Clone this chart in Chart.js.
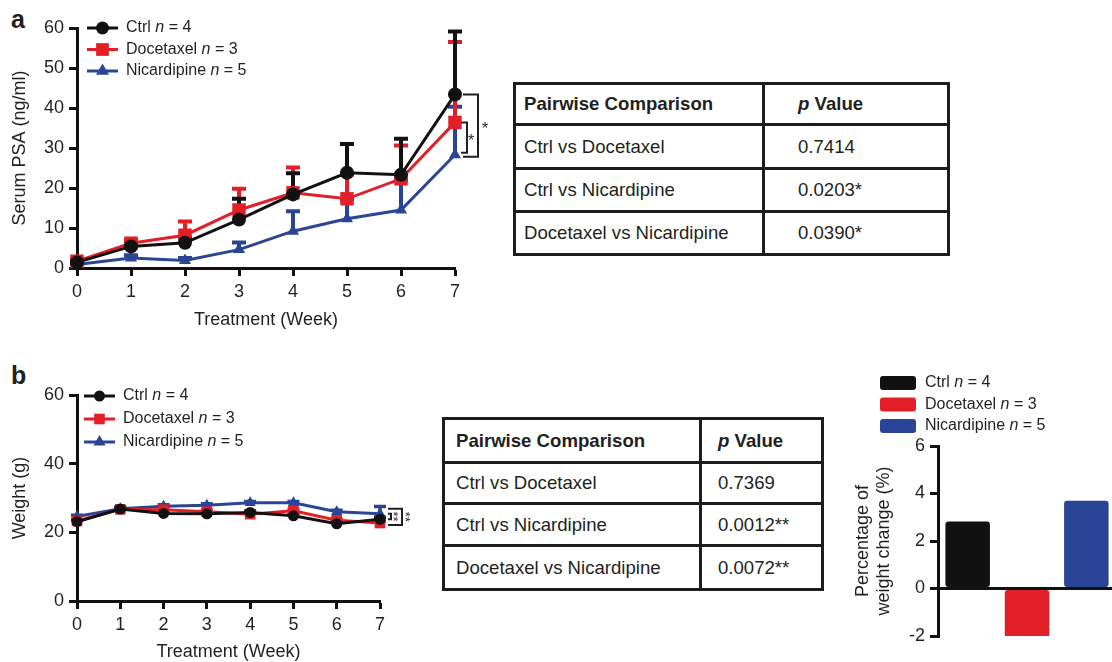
<!DOCTYPE html>
<html lang="en">
<head>
<meta charset="UTF-8">
<title>Serum PSA and weight</title>
<script src="https://cdn.jsdelivr.net/npm/chart.js"></script>
<style>
  body { margin: 0; width: 1112px; height: 662px; overflow: hidden; background: #fff;
         font-family: 'Liberation Sans', Arial, Helvetica, sans-serif; color: #231f20; position: relative; }
  canvas { position: absolute; }
  .lab { position: absolute; font-weight: bold; font-size: 25px; line-height: 1; }
  table { position: absolute; border-collapse: collapse; table-layout: fixed; font-size: 18.6px; }
  td { border: 3px solid #1d1d1d; padding: 0; white-space: nowrap; }
  th { border: 3px solid #1d1d1d; padding: 0; text-align: left; font-weight: bold; white-space: nowrap; }
</style>
</head>
<body>
<div class="lab" style="left:11px; top:7px;">a</div>
<div class="lab" style="left:11px; top:363px;">b</div>

<canvas id="psa" width="500" height="340" style="left:0; top:0;"></canvas>
<canvas id="weight" width="420" height="310" style="left:0; top:360px;"></canvas>
<canvas id="change" width="276" height="300" style="left:840px; top:360px;"></canvas>

<table id="tblA" style="left:513px; top:82px; width:434px;">
  <colgroup><col style="width:249px"><col style="width:185px"></colgroup>
</table>
<table id="tblB" style="left:442px; top:417px; width:379px;">
  <colgroup><col style="width:257px"><col style="width:122px"></colgroup>
</table>

<script>
    const weeks = ['0', '1', '2', '3', '4', '5', '6', '7'];
    const groups = ['Ctrl', 'Docetaxel', 'Nicardipine'];
    const groupN = [4, 3, 5];
    const colors = ['#111111', '#e21f26', '#2b4596'];

    // panel a, serum PSA (ng/ml), mean and upper error
    const psaCtrl = [1.4, 5.4, 6.3, 12.1, 18.4, 23.8, 23.3, 43.4];
    const psaCtrlErr = [0.4, 0.6, 1.3, 5.2, 5.3, 7.2, 9.0, 15.7];
    const psaDoce = [1.7, 6.2, 8.2, 14.5, 18.8, 17.3, 22.3, 36.4];
    const psaDoceErr = [0.4, 0.7, 3.4, 5.3, 6.3, 6.0, 8.3, 20.1];
    const psaNica = [0.9, 2.5, 1.9, 4.6, 9.2, 12.3, 14.5, 28.3];
    const psaNicaErr = [0.3, 0.7, 0.6, 1.8, 5.0, 4.8, 7.5, 12.0];

    // panel b, weight (g)
    const wtCtrl = [23.1, 26.8, 25.5, 25.4, 25.8, 24.8, 22.5, 23.8];
    const wtCtrlErr = [0.5, 0.4, 0.4, 0.4, 0.4, 0.4, 0.5, 0.6];
    const wtDoce = [23.3, 26.7, 26.6, 26.0, 25.3, 26.3, 23.5, 22.7];
    const wtDoceErr = [0.4, 0.4, 0.4, 0.4, 0.4, 0.4, 0.4, 0.5];
    const wtNica = [24.6, 26.9, 27.6, 27.9, 28.6, 28.6, 26.0, 25.4];
    const wtNicaErr = [0.4, 0.4, 0.4, 0.4, 0.4, 0.4, 0.4, 2.1];

    // percentage of weight change (%)
    const wtChange = [2.82, -2.05, 3.70];

    // pairwise comparison tables
    const pairs = ['Ctrl vs Docetaxel', 'Ctrl vs Nicardipine', 'Docetaxel vs Nicardipine'];
    const pValuesA = ['0.7414', '0.0203*', '0.0390*'];
    const pValuesB = ['0.7369', '0.0012**', '0.0072**'];

    Chart.defaults.font.family = "'Liberation Sans', Arial, Helvetica, sans-serif";
    Chart.defaults.color = '#231f20';

    function fillTable(id, values, rowH, padL, padR) {
        const t = document.getElementById(id);
        let html = '<tr style="height:' + rowH[0] + 'px"><th style="padding-left:' + padL + 'px">Pairwise Comparison</th>' +
            '<th style="padding-left:' + padR + 'px"><i>p</i> Value</th></tr>';
        pairs.forEach((p, i) => {
            html += '<tr style="height:' + rowH[i + 1] + 'px"><td style="padding-left:' + padL + 'px">' + p + '</td>' +
                '<td style="padding-left:' + padR + 'px">' + values[i] + '</td></tr>';
        });
        t.insertAdjacentHTML('beforeend', html);
    }
    fillTable('tblA', pValuesA, [41, 44, 43, 43], 8, 33);
    fillTable('tblB', pValuesB, [44, 41, 42, 44], 11, 16);

    function marker(ctx, style, x, y, r) {
        ctx.beginPath();
        if (style === 'circle') {
            ctx.arc(x, y, r, 0, Math.PI * 2);
        } else if (style === 'rect') {
            const s = r * Math.SQRT1_2;
            ctx.rect(x - s, y - s, 2 * s, 2 * s);
        } else {
            for (let k = 0; k < 3; k++) {
                const a = k * Math.PI * 2 / 3;
                ctx.lineTo(x + Math.sin(a) * r, y - Math.cos(a) * r);
            }
            ctx.closePath();
        }
        ctx.fill();
    }

    function groupText(ctx, i, x, y, size) {
        ctx.textBaseline = 'middle';
        ctx.textAlign = 'left';
        ctx.fillStyle = '#231f20';
        const a = groups[i] + ' ';
        ctx.font = size + "px 'Liberation Sans', Arial";
        ctx.fillText(a, x, y);
        let w = ctx.measureText(a).width;
        ctx.font = 'italic ' + size + "px 'Liberation Sans', Arial";
        ctx.fillText('n', x + w, y);
        w += ctx.measureText('n').width;
        ctx.font = size + "px 'Liberation Sans', Arial";
        ctx.fillText(' = ' + groupN[i], x + w, y);
    }

    const errorBars = {
        id: 'errorBars',
        beforeDatasetsDraw(chart, args, o) {
            const ctx = chart.ctx;
            const ys = chart.scales.y;
            for (let i = chart.data.datasets.length - 1; i >= 0; i--) {
                const ds = chart.data.datasets[i];
                const meta = chart.getDatasetMeta(i);
                ctx.save();
                ctx.strokeStyle = ds.borderColor;
                ctx.lineWidth = o.width;
                meta.data.forEach((pt, j) => {
                    const top = ys.getPixelForValue(ds.data[j] + ds.err[j]);
                    ctx.beginPath();
                    ctx.moveTo(pt.x, pt.y);
                    ctx.lineTo(pt.x, top);
                    ctx.moveTo(pt.x - o.cap, top);
                    ctx.lineTo(pt.x + o.cap, top);
                    ctx.stroke();
                });
                ctx.restore();
            }
        }
    };

    const lineLegend = {
        id: 'lineLegend',
        afterDraw(chart, args, o) {
            const ctx = chart.ctx;
            chart.data.datasets.forEach((ds, i) => {
                const y = o.y + i * o.gap;
                ctx.save();
                ctx.strokeStyle = ds.borderColor;
                ctx.fillStyle = ds.borderColor;
                ctx.lineWidth = 3;
                ctx.beginPath();
                ctx.moveTo(o.x, y);
                ctx.lineTo(o.x + o.len, y);
                ctx.stroke();
                marker(ctx, ds.pointStyle, o.x + o.len / 2, y, o.r[i]);
                groupText(ctx, i, o.x + o.len + o.textGap, y, o.size);
                ctx.restore();
            });
        }
    };

    // significance brackets at the last week, drawn between two group means
    const brackets = {
        id: 'brackets',
        afterDraw(chart, args, o) {
            const ctx = chart.ctx;
            const last = weeks.length - 1;
            ctx.save();
            ctx.strokeStyle = '#231f20';
            ctx.fillStyle = '#231f20';
            ctx.lineWidth = o.lineWidth;
            o.items.forEach(b => {
                const ptA = chart.getDatasetMeta(b.from).data[last];
                const ptB = chart.getDatasetMeta(b.to).data[last];
                const top = Math.min(ptA.y, ptB.y) - b.extra[0];
                const bot = Math.max(ptA.y, ptB.y) + b.extra[1];
                const xv = ptA.x + b.dx;
                ctx.beginPath();
                ctx.moveTo(ptA.x + b.dx0, top);
                ctx.lineTo(xv, top);
                ctx.lineTo(xv, bot);
                ctx.lineTo(ptA.x + b.dx0, bot);
                ctx.stroke();
                ctx.save();
                ctx.translate(xv + b.sx, (top + bot) / 2);
                if (b.rotate) ctx.rotate(Math.PI / 2);
                ctx.font = o.size + "px 'Liberation Sans', Arial";
                ctx.textAlign = 'center';
                ctx.textBaseline = 'middle';
                ctx.fillText(b.label, 0, o.size * 0.25);
                ctx.restore();
            });
            ctx.restore();
        }
    };

    function axis(title, padTitle, size) {
        return {
            grid: { drawOnChartArea: false, tickLength: 8, tickWidth: 3, tickColor: '#111' },
            border: { color: '#111', width: 3 },
            ticks: { font: { size: size }, padding: 5, maxRotation: 0, color: '#231f20' },
            title: { display: true, text: title, font: { size: size }, color: '#231f20', padding: padTitle }
        };
    }

    function lineSets(a, b, c, ea, eb, ec, r) {
        const vals = [a, b, c], errs = [ea, eb, ec], styles = ['circle', 'rect', 'triangle'];
        return groups.map((g, i) => ({
            label: g,
            data: vals[i],
            err: errs[i],
            borderColor: colors[i],
            backgroundColor: colors[i],
            pointBackgroundColor: colors[i],
            pointBorderWidth: 0,
            pointStyle: styles[i],
            pointRadius: r[i],
            borderWidth: 3,
            tension: 0,
            clip: false
        }));
    }

    // ---- panel a: serum PSA ----
    const xa = axis('Treatment (Week)', { top: 0, bottom: 9 }, 18);
    xa.afterFit = s => { s.height = 72; };
    const ya = axis('Serum PSA (ng/ml)', { top: 9, bottom: 0 }, 18);
    ya.min = 0; ya.max = 60; ya.ticks.stepSize = 10;
    ya.afterFit = s => { s.width = 77; };

    new Chart(document.getElementById('psa'), {
        type: 'line',
        data: { labels: weeks, datasets: lineSets(psaCtrl, psaDoce, psaNica, psaCtrlErr, psaDoceErr, psaNicaErr, [7, 9.5, 7]) },
        options: {
            responsive: false,
            animation: false,
            layout: { padding: { top: 28, right: 45, left: 0, bottom: 0 } },
            plugins: {
                legend: { display: false },
                tooltip: { enabled: false },
                errorBars: { width: 4, cap: 7 },
                lineLegend: { x: 87, y: 28, gap: 21.5, len: 31, textGap: 8, size: 16, r: [6.5, 9, 7.5] },
                brackets: {
                    lineWidth: 2, size: 16,
                    items: [
                        { from: 0, to: 2, dx: 23, dx0: 8, extra: [0, 2], sx: 7, label: '*' },
                        { from: 1, to: 2, dx: 12, dx0: 6, extra: [0, -2], sx: 4, label: '*' }
                    ]
                }
            },
            scales: { x: xa, y: ya }
        },
        plugins: [errorBars, lineLegend, brackets]
    });

    // ---- panel b: weight ----
    const xb = axis('Treatment (Week)', { top: 0, bottom: 7 }, 18);
    xb.afterFit = s => { s.height = 69; };
    const yb = axis('Weight (g)', { top: 9, bottom: 0 }, 18);
    yb.min = 0; yb.max = 60; yb.ticks.stepSize = 20;
    yb.afterFit = s => { s.width = 77; };

    new Chart(document.getElementById('weight'), {
        type: 'line',
        data: { labels: weeks, datasets: lineSets(wtCtrl, wtDoce, wtNica, wtCtrlErr, wtDoceErr, wtNicaErr, [5.5, 7.5, 6.5]) },
        options: {
            responsive: false,
            animation: false,
            layout: { padding: { top: 35, right: 40, left: 0, bottom: 0 } },
            plugins: {
                legend: { display: false },
                tooltip: { enabled: false },
                errorBars: { width: 3.5, cap: 6 },
                lineLegend: { x: 84, y: 36, gap: 23, len: 31, textGap: 8, size: 16, r: [5.5, 7.5, 7] },
                brackets: {
                    lineWidth: 2, size: 13,
                    items: [
                        { from: 2, to: 1, dx: 22, dx0: 8, extra: [5, 2], sx: 6, label: '**', rotate: true },
                        { from: 2, to: 0, dx: 11, dx0: 8, extra: [0, 0], sx: 5, label: '**', rotate: true }
                    ]
                }
            },
            scales: { x: xb, y: yb }
        },
        plugins: [errorBars, lineLegend, brackets]
    });

    // ---- panel b: percentage of weight change ----
    const barLegend = {
        id: 'barLegend',
        afterDraw(chart, args, o) {
            const ctx = chart.ctx;
            groups.forEach((g, i) => {
                const y = o.y + i * o.gap;
                ctx.save();
                ctx.fillStyle = colors[i];
                ctx.beginPath();
                ctx.roundRect(o.x, y - o.h / 2, o.w, o.h, 3);
                ctx.fill();
                groupText(ctx, i, o.x + o.w + 9, y, o.size);
                ctx.restore();
            });
        }
    };

    new Chart(document.getElementById('change'), {
        type: 'bar',
        data: {
            labels: groups,
            datasets: [{
                data: wtChange,
                backgroundColor: colors,
                borderRadius: 3,
                borderSkipped: false,
                barPercentage: 0.75,
                categoryPercentage: 1
            }]
        },
        options: {
            responsive: false,
            animation: false,
            layout: { padding: { top: 86, right: 0, left: 0, bottom: 24 } },
            plugins: {
                legend: { display: false },
                tooltip: { enabled: false },
                barLegend: { x: 40, y: 23, gap: 21.5, w: 36, h: 14, size: 16 }
            },
            scales: {
                x: { display: false },
                y: {
                    min: -2, max: 6,
                    ticks: { stepSize: 2, font: { size: 18 }, padding: 5, color: '#231f20' },
                    grid: {
                        drawOnChartArea: true, tickLength: 8, tickWidth: 3, tickColor: '#111', lineWidth: 3,
                        color: c => (c.tick && c.tick.value === 0) ? '#111' : 'rgba(0,0,0,0)'
                    },
                    border: { color: '#111', width: 3 },
                    title: { display: true, text: ['Percentage of', 'weight change (%)'], font: { size: 18 },
                             color: '#231f20', padding: { top: 12, bottom: 0 } },
                    afterFit: s => { s.width = 98; }
                }
            }
        },
        plugins: [barLegend]
    });
</script>
</body>
</html>
